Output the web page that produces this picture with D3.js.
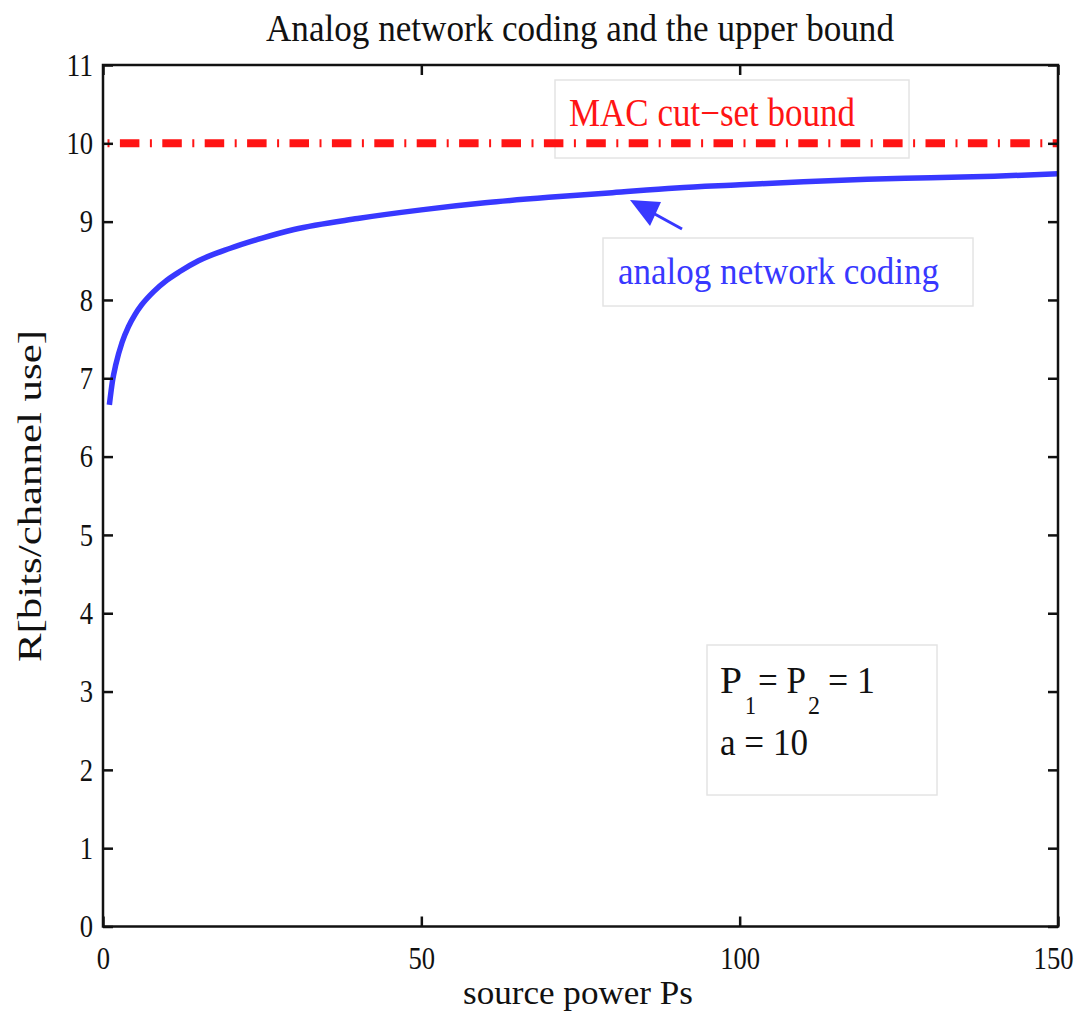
<!DOCTYPE html>
<html>
<head>
<meta charset="utf-8">
<script src="https://cdn.jsdelivr.net/npm/d3@7"></script>
<style>
  html, body { margin: 0; padding: 0; background: #fff; }
  svg { display: block; font-family: "Liberation Serif", "Times New Roman", serif; }
</style>
</head>
<body>
<svg id="chart" width="1083" height="1018"></svg>
<script>
// Source power Ps (x) and achievable rate with analog network coding (y)
const sourcePower = [1, 1.5, 2, 3, 4, 5, 6, 8, 10, 12, 15, 20, 25, 30, 40, 50, 60, 70, 80, 90, 100, 110, 120, 130, 140, 150];
const ancRate     = [6.66, 6.97, 7.17, 7.46, 7.66, 7.81, 7.93, 8.11, 8.25, 8.36, 8.50, 8.66, 8.79, 8.90, 9.04, 9.15, 9.24, 9.31, 9.37, 9.43, 9.47, 9.51, 9.54, 9.56, 9.58, 9.61];
// MAC cut-set upper bound (constant)
const cutSetBound = 10;
const xTicks = [0, 50, 100, 150];
const yTicks = [0, 1, 2, 3, 4, 5, 6, 7, 8, 9, 10, 11];

const svg = d3.select("#chart");
const L = 103, R = 1058, T = 65, B = 926.5;

const x = d3.scaleLinear().domain([0, 150]).range([L, R]);
const y = d3.scaleLinear().domain([0, 11]).range([B, T]);

const blue = "#3838ff";
const red = "#ff1414";

// annotation boxes (drawn first so lines sit on top)
function box(x0, y0, x1, y1) {
  svg.append("rect").attr("x", x0).attr("y", y0)
    .attr("width", x1 - x0).attr("height", y1 - y0)
    .attr("fill", "none").attr("stroke", "#e4e4e4").attr("stroke-width", 1.5);
}
box(555, 80, 909, 158);
box(603, 238, 973, 306);
box(707, 645, 937, 795);

// upper bound line
svg.append("line")
  .attr("x1", x(0)).attr("x2", x(150))
  .attr("y1", y(cutSetBound)).attr("y2", y(cutSetBound))
  .attr("stroke", red).attr("stroke-width", 8)
  .attr("stroke-dasharray", "19.5,10.5,2,10.4")
  .attr("stroke-dashoffset", 25.5);

// analog network coding curve
const line = d3.line()
  .x((d, i) => x(sourcePower[i]))
  .y(d => y(d))
  .curve(d3.curveMonotoneX);
svg.append("path")
  .attr("d", line(ancRate))
  .attr("fill", "none").attr("stroke", blue).attr("stroke-width", 5.5)
  .attr("stroke-linecap", "butt");

// axes: ticks inside on all four sides
const fontTick = 32;
const axB = svg.append("g").attr("transform", `translate(0,${B})`)
  .call(d3.axisBottom(x).tickValues(xTicks).tickSizeInner(-10).tickSizeOuter(0).tickPadding(20));
const axT = svg.append("g").attr("transform", `translate(0,${T})`)
  .call(d3.axisTop(x).tickValues(xTicks).tickSizeInner(-10).tickSizeOuter(0).tickFormat(""));
const axL = svg.append("g").attr("transform", `translate(${L},0)`)
  .call(d3.axisLeft(y).tickValues(yTicks).tickSizeInner(-10).tickSizeOuter(0).tickPadding(20));
const axR = svg.append("g").attr("transform", `translate(${R},0)`)
  .call(d3.axisRight(y).tickValues(yTicks).tickSizeInner(-10).tickSizeOuter(0).tickFormat(""));

[axB, axT, axL, axR].forEach(g => {
  g.select(".domain").remove();
  g.selectAll(".tick line").attr("stroke", "#111").attr("stroke-width", 2.5);
  g.selectAll(".tick text")
    .attr("font-family", "Liberation Serif, Times New Roman, serif")
    .attr("font-size", fontTick).attr("fill", "#111")
    .attr("textLength", function () { return this.textContent.length * 13.3; })
    .attr("lengthAdjust", "spacingAndGlyphs");
});
axB.selectAll(".tick text").attr("dy", "0.71em").attr("y", 20);
// keep the last x label inside the page
axB.selectAll(".tick text").filter(d => d === 150).attr("text-anchor", "end").attr("x", 15);
axL.selectAll(".tick text").attr("x", -10);

// frame
svg.append("rect").attr("x", L).attr("y", T)
  .attr("width", R - L).attr("height", B - T)
  .attr("fill", "none").attr("stroke", "#111").attr("stroke-width", 2.5);

// text helper with fitted width
function label(txt, xx, yy, size, width, color, anchor) {
  const t = svg.append("text").attr("x", xx).attr("y", yy)
    .attr("font-size", size).attr("fill", color)
    .attr("text-anchor", anchor || "start")
    .text(txt);
  if (width) t.attr("textLength", width).attr("lengthAdjust", "spacingAndGlyphs");
  return t;
}

label("Analog network coding and the upper bound", 580, 41, 37, 628, "#111", "middle");
label("source power Ps", 578, 1004, 34, 230, "#111", "middle");
svg.append("text")
  .attr("transform", "translate(41,496) rotate(-90)")
  .attr("text-anchor", "middle").attr("font-size", 34).attr("fill", "#111")
  .attr("textLength", 332).attr("lengthAdjust", "spacingAndGlyphs")
  .text("R[bits/channel use]");

label("MAC cut\u2212set bound", 569, 126, 39, 286, red);
label("analog network coding", 618, 284, 37, 321, blue);

// arrow pointing at the curve
svg.append("line").attr("x1", 682).attr("y1", 229).attr("x2", 642).attr("y2", 207)
  .attr("stroke", blue).attr("stroke-width", 3);
svg.append("path")
  .attr("d", "M630,200 L661,202 L650,226 Z")
  .attr("fill", blue);

// parameter box text: P1 = P2 = 1 / a = 10
label("P", 720, 693, 38, 22, "#111");
label("1", 745, 714, 26, 11, "#111");
label("= P", 758, 693, 38, 48, "#111");
label("2", 808, 714, 26, 12, "#111");
label("= 1", 828, 693, 38, 47, "#111");
label("a = 10", 720, 755, 38, 88, "#111");
</script>
</body>
</html>
